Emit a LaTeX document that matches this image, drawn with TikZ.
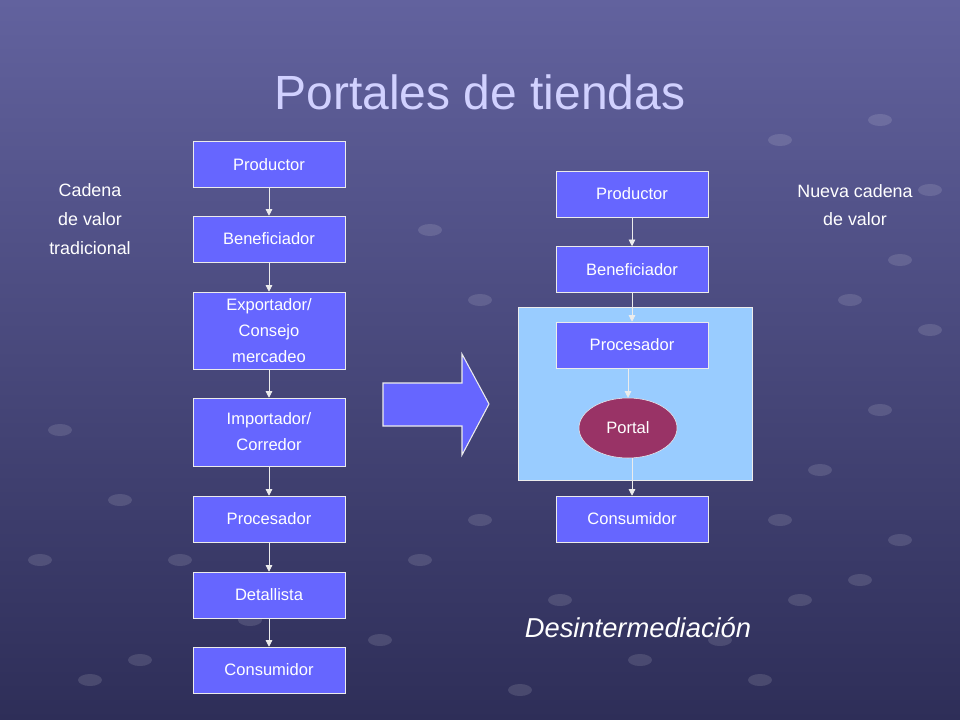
\documentclass[tikz,border=0pt]{standalone}
\usepackage{fontspec}
\setmainfont{Liberation Sans}
\usetikzlibrary{shapes.geometric,arrows.meta}
\definecolor{bgtop}{HTML}{62629E}
\definecolor{bgbot}{HTML}{2E2E58}
\definecolor{boxc}{HTML}{6666FF}
\definecolor{portalc}{HTML}{993366}
\definecolor{panel}{HTML}{99CCFF}
\tikzset{
  bx/.style={draw=white!85!gray, fill=boxc, text=white, minimum width=152*0.75pt, align=center, font=\fontsize{12.4}{19.5}\selectfont, inner sep=1pt},
  conn/.style={draw=white!85!gray, -{Triangle[length=5pt,width=5pt]}, line width=0.6pt},
  lab/.style={text=white, align=center, font=\fontsize{13.4}{21.5}\selectfont}
}
\begin{document}
\begin{tikzpicture}[x=0.75pt,y=-0.75pt]
\shade[top color=bgtop,bottom color=bgbot] (0,0) rectangle (960,720);
\useasboundingbox (0,0) rectangle (960,720);
\foreach \x/\y in {60/430,120/500,180/560,250/620,330/590,420/560,480/520,560/600,640/660,720/640,800/600,860/580,900/540,780/520,820/470,880/410,930/330,900/260,850/300,90/680,140/660,380/640,520/690,760/680,40/560,880/120,930/190,780/140,430/230,480/300}
  \fill[white,opacity=0.12] (\x,\y) ellipse (12 and 6);
\node[text=white!82!blue,font=\fontsize{36}{40}\selectfont] (title) at (480,92) {Portales de tiendas};
% left chain
\node[bx,minimum height=46*0.75pt] (l1) at (269,164.5) {Productor};
\node[bx,minimum height=46*0.75pt] (l2) at (269,239) {Beneficiador};
\node[bx,minimum height=77*0.75pt] (l3) at (269,330.5) {Exportador/\\Consejo\\mercadeo};
\node[bx,minimum height=68*0.75pt] (l4) at (269,432) {Importador/\\Corredor};
\node[bx,minimum height=46*0.75pt] (l5) at (269,519) {Procesador};
\node[bx,minimum height=46*0.75pt] (l6) at (269,595) {Detallista};
\node[bx,minimum height=46*0.75pt] (l7) at (269,670) {Consumidor};
\foreach \a/\b in {l1/l2,l2/l3,l3/l4,l4/l5,l5/l6,l6/l7} \draw[conn] (\a) -- (\b);
\node[lab] (t1) at (90,219) {Cadena\\de valor\\tradicional};
% big arrow
\draw[draw=white!85!gray,fill=boxc,line width=0.8pt] (383,383) -- (462,383) -- (462,354) -- (489,404) -- (462,455) -- (462,426) -- (383,426) -- cycle;
% right chain
\node[draw=white!85!gray,fill=panel,minimum width=234*0.75pt,minimum height=173*0.75pt] (panel) at (635,393.5) {};
\node[bx,minimum height=46*0.75pt] (r1) at (632,194) {Productor};
\node[bx,minimum height=46*0.75pt] (r2) at (632,269.5) {Beneficiador};
\node[bx,minimum height=46*0.75pt] (r3) at (632,345) {Procesador};
\node[ellipse,draw=white!85!gray,fill=portalc,text=white,minimum width=98*0.75pt,minimum height=60*0.75pt,font=\fontsize{12.4}{15}\selectfont] (r4) at (628,428) {Portal};
\node[bx,minimum height=46*0.75pt] (r5) at (632,519) {Consumidor};
\draw[conn] (r1) -- (r2);
\draw[conn] (r2) -- (r3);
\draw[conn] (r3.south -| r4.north) -- (r4.north);
\draw[conn] (r4.south -| r5.north) -- (r5.north);
\node[lab] (t2) at (855,205) {Nueva cadena\\de valor};
\node[text=white,font=\itshape\fontsize{20.5}{26}\selectfont] (t3) at (638,628) {Desintermediación};
\end{tikzpicture}
\end{document}
